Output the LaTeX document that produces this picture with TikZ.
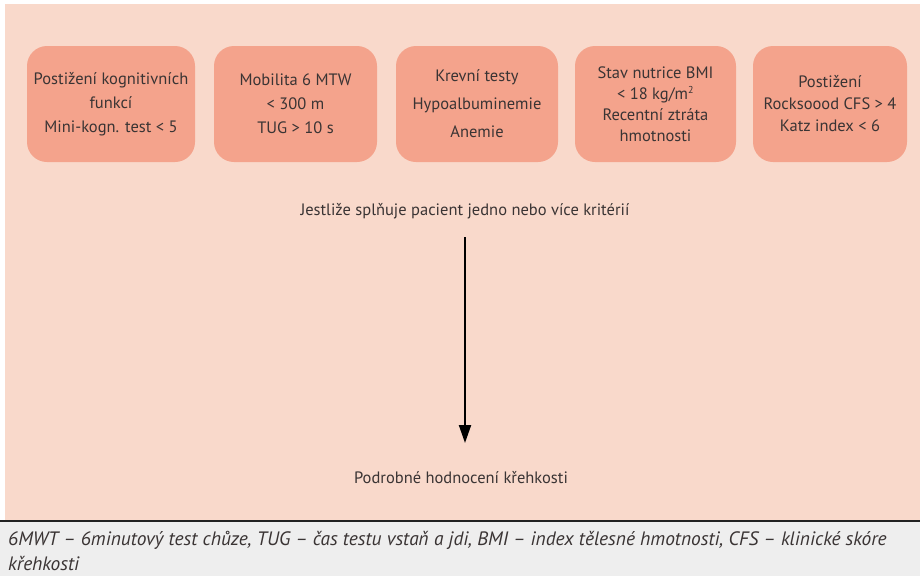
\documentclass[tikz,border=0pt]{standalone}
\usepackage{fontspec}
\setmainfont{PT Sans}
\newfontfamily\capfont{PT Sans}
\usetikzlibrary{arrows.meta}
\definecolor{panel}{HTML}{F9D9CB}
\definecolor{boxfill}{HTML}{F4A38C}
\definecolor{txt}{HTML}{3A3434}
\definecolor{capbg}{HTML}{EEEEEE}
\definecolor{rule}{HTML}{222222}
\tikzset{
  crit/.style={fill=boxfill, rounded corners=20pt, align=center, text=txt,
    font=\fontsize{16.5}{24}\selectfont, minimum height=116pt, inner sep=0pt},
  plain/.style={text=txt, font=\fontsize{16.5}{19}\selectfont, inner sep=0pt},
  arr/.style={line width=2pt, -{Triangle[length=18pt,width=12pt]}}
}
\begin{document}
\begin{tikzpicture}[x=1pt,y=-1pt]
\useasboundingbox (0,0) rectangle (920,576);
\fill[white] (0,0) rectangle (920,576);
\fill[panel] (5,4) rectangle (920,520);
\fill[capbg] (0,521) rectangle (920,576);
\draw[rule, line width=1.5pt] (0,521) -- (920,521);

\node[crit, minimum width=168pt] (b1) at (111,104) {Postižení kognitivních\\funkcí\\Mini-kogn. test < 5};
\node[crit, minimum width=163pt] (b2) at (295.5,104) {Mobilita 6 MTW\\< 300 m\\TUG > 10 s};
\node[crit, minimum width=162pt, font=\fontsize{16.5}{28}\selectfont] (b3) at (477,104) {Krevní testy\\Hypoalbuminemie\\Anemie};
\node[crit, minimum width=161pt, font=\fontsize{16.5}{21}\selectfont] (b4) at (655.5,104) {Stav nutrice BMI\\< 18 kg/m\textsuperscript{\fontsize{10}{10}\selectfont 2}\\Recentní ztráta\\hmotnosti};
\node[crit, minimum width=154pt, font=\fontsize{16.5}{22}\selectfont] (b5) at (830,104) {Postižení\\Rocksoood CFS > 4\\Katz index < 6};

\node[plain] (jest) at (465,211) {Jestliže splňuje pacient jedno nebo více kritérií};
\node[plain] (podr) at (461,478) {Podrobné hodnocení křehkosti};
\draw[arr, shorten <=26pt, shorten >=35pt] (jest.center) -- (jest.center |- podr.center);

\node[anchor=north west, inner sep=0pt, align=left, text=txt,
  font=\capfont\itshape\fontsize{19.4}{25}\selectfont] (cap) at (8,531)
  {6MWT – 6minutový test chůze, TUG – čas testu vstaň a jdi, BMI – index tělesné hmotnosti, CFS – klinické skóre\\křehkosti};
\end{tikzpicture}
\end{document}
